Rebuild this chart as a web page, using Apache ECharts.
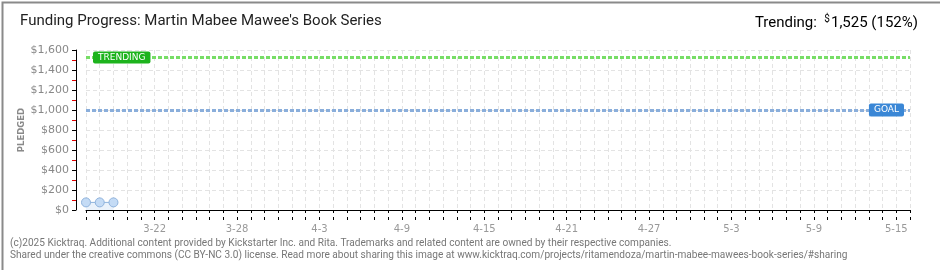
<!DOCTYPE html>
<html>
<head>
<meta charset="utf-8">
<script src="https://cdn.jsdelivr.net/npm/echarts@6/dist/echarts.min.js"></script>
<style>
html,body{margin:0;padding:0;background:#fff;}
#chart{width:940px;height:270px;position:absolute;left:0;top:0;}
</style>
</head>
<body>
<div id="chart"></div>
<script>
// ---- data ----
const titleText = "Funding Progress: Martin Mabee Mawee's Book Series";
const days = [
  "3-17","3-18","3-19","3-20","3-21","3-22","3-23","3-24","3-25","3-26","3-27","3-28","3-29","3-30","3-31",
  "4-1","4-2","4-3","4-4","4-5","4-6","4-7","4-8","4-9","4-10","4-11","4-12","4-13","4-14","4-15",
  "4-16","4-17","4-18","4-19","4-20","4-21","4-22","4-23","4-24","4-25","4-26","4-27","4-28","4-29","4-30",
  "5-1","5-2","5-3","5-4","5-5","5-6","5-7","5-8","5-9","5-10","5-11","5-12","5-13","5-14","5-15","5-16"
];
const tickLabels = ["3-22","3-28","4-3","4-9","4-15","4-21","4-27","5-3","5-9","5-15"];
const pledged = [76, 76, 76];
const goal = 1000;
const trending = 1525;
const trendingPct = 152;
const yMax = 1600;
const yStep = 200;
const footer1 = "(c)2025 Kicktraq. Additional content provided by Kickstarter Inc. and Rita. Trademarks and related content are owned by their respective companies.";
const footer2 = "Shared under the creative commons (CC BY-NC 3.0) license. Read more about sharing this image at www.kicktraq.com/projects/ritamendoza/martin-mabee-mawees-book-series/#sharing";

const chart = echarts.init(document.getElementById('chart'), null, {renderer: 'canvas'});
const gridColor = '#e3e3e3';
const fmt = v => '$' + v.toLocaleString('en-US');

const option = {
  animation: false,
  backgroundColor: '#fff',
  grid: {left: 86, right: 30, top: 50, bottom: 60},
  graphic: [
    {type: 'rect', left: 0, top: 0, shape: {width: 939, height: 269}, style: {fill: 'none', stroke: '#8a8a8a', lineWidth: 2}, z: 100, silent: true},
    {type: 'text', left: 20, top: 14, style: {text: titleText, font: '15px Roboto', fill: '#222'}},
    {type: 'text', right: 22, top: 14, style: {
      text: '{a|Trending:  }{s|$}{a|' + trending.toLocaleString('en-US') + ' (' + trendingPct + '%)}',
      rich: {
        a: {fontFamily: 'Roboto', fontSize: 15, color: '#222'},
        s: {fontFamily: 'Roboto', fontSize: 10, color: '#222', verticalAlign: 'top', padding: [0, 1, 8, 0]}
      }
    }},
    {type: 'text', left: 10, top: 238, style: {text: footer1, font: '10.1px Roboto', fill: '#777'}},
    {type: 'text', left: 10, top: 250, style: {text: footer2, font: '10.1px Roboto', fill: '#777'}}
  ],
  xAxis: [
    {
      type: 'category', data: days, boundaryGap: false, position: 'bottom', offset: 10,
      axisLine: {show: true, lineStyle: {color: '#000', width: 1}},
      axisTick: {show: true, interval: 0, length: 3, lineStyle: {color: '#000'}},
      axisLabel: {
        interval: (i, v) => tickLabels.includes(v),
        color: '#999', fontSize: 10, fontFamily: 'DejaVu Sans', margin: 4
      },
      splitLine: {show: true, interval: 0, lineStyle: {color: gridColor, type: [4, 3]}}
    },
    {
      type: 'category', data: days, boundaryGap: false, position: 'bottom', offset: 10,
      axisLine: {show: false},
      axisTick: {show: true, inside: true, interval: 0, length: 3, lineStyle: {color: '#000'}},
      axisLabel: {show: false},
      splitLine: {show: false}
    }
  ],
  yAxis: {
    type: 'value', min: 0, max: yMax, interval: yStep, offset: 10,
    name: 'PLEDGED', nameLocation: 'middle', nameGap: 50, nameRotate: 90, nameMoveOverlap: false,
    nameTextStyle: {color: '#8a8a8a', fontSize: 8.5, fontWeight: 'bold', fontFamily: 'DejaVu Sans'},
    axisLine: {show: true, lineStyle: {color: '#000', width: 1}},
    axisTick: {show: true, length: 4, lineStyle: {color: '#000'}},
    minorTick: {show: true, splitNumber: 2, length: 4, lineStyle: {color: '#e00000'}},
    axisLabel: {formatter: fmt, color: '#888', fontSize: 11, fontFamily: 'DejaVu Sans', margin: 7},
    splitLine: {show: true, lineStyle: {color: gridColor, type: [4, 3]}},
    minorSplitLine: {show: false}
  },
  series: [{
    type: 'line', data: pledged, xAxisIndex: 0,
    symbol: 'circle', symbolSize: 9,
    lineStyle: {color: '#8fb3dd', width: 1},
    itemStyle: {color: '#c4dbf5', borderColor: '#8fb3dd', borderWidth: 1},
    areaStyle: {color: '#eaf2fb', opacity: 1},
    markLine: {
      silent: true, symbol: 'none',
      data: [
        {yAxis: trending, lineStyle: {color: '#77dd66', width: 3, type: [4, 2]},
          label: {show: true, position: 'insideStart', distance: 7, formatter: 'TRENDING',
            color: '#fff', backgroundColor: '#1db31d', padding: [2, 5, 1, 5], borderRadius: 2,
            fontSize: 9, fontFamily: 'DejaVu Sans'}},
        {yAxis: goal, lineStyle: {color: '#8aaedb', width: 3, type: [4, 2]},
          label: {show: true, position: 'insideEnd', distance: 6, formatter: 'GOAL',
            color: '#fff', backgroundColor: '#3a87d6', padding: [2, 5, 2, 5], borderRadius: 2,
            fontSize: 9, fontFamily: 'DejaVu Sans'}}
      ]
    }
  }]
};
chart.setOption(option);
</script>
</body>
</html>
